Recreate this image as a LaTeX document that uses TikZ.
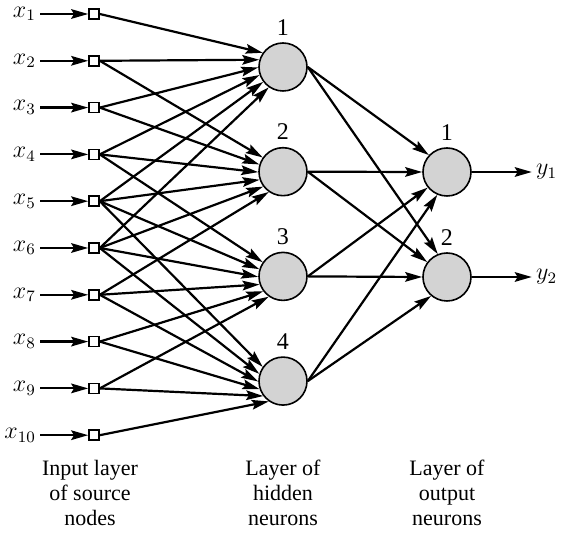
\documentclass[tikz,border=0pt]{standalone}
\usepackage{amsmath}
\usepackage{fontspec}
\setmainfont{Liberation Serif}
\usetikzlibrary{arrows.meta, positioning}

\definecolor{NeuronGrey}{HTML}{D3D3D3}

\begin{document}
\begin{tikzpicture}[x=0.5pt, y=-0.5pt, >={Stealth[length=8.5pt, width=4.8pt, inset=1.4pt]},
    source/.style={draw, rectangle, minimum size=5pt, inner sep=0pt, fill=white, line width=0.8pt},
    neuron/.style={draw, circle, minimum size=24pt, inner sep=0pt, fill=NeuronGrey, line width=0.8pt,
      label distance=-1pt},
    link/.style={->, line width=1.1pt},
    caption/.style={align=center, font=\fontsize{11}{12.5}\selectfont}]
  \useasboundingbox (0,0) rectangle (570,534);
  % Input layer of source nodes
  \foreach \i in {1,...,10} {
    \node[source] (x\i) at (94, {14+46.8*(\i-1)}) {};
    \node[left=24pt of x\i, inner sep=2pt, font=\large] (lx\i) {$x_{\i}$};
    \draw[link] (lx\i) -- (x\i);
  }
  % Hidden and output neurons
  \foreach \j in {1,...,4}
    \node[neuron, label={[font=\large]above:\j}] (h\j) at (283, {67+104.7*(\j-1)}) {};
  \foreach \k in {1,2} {
    \node[neuron, label={[font=\large]above:\k}] (o\k) at (447, {172+105*(\k-1)}) {};
    \node[right=30pt of o\k, inner sep=2pt, font=\large] (y\k) {$y_{\k}$};
    \draw[link] (o\k) -- (y\k);
  }
  % Source nodes -> hidden neurons (arrows spread over the left side)
  \foreach \j/\list in {1/{1,2,3,4,5,6}, 2/{2,3,4,5,6,7}, 3/{4,5,6,7,8,9}, 4/{5,6,7,8,9,10}}
    \foreach \i [count=\idx from 0] in \list {
      \pgfmathtruncatemacro\ang{145+18*\idx}
      \draw[link] (x\i.east) -- (h\j.\ang);
    }
  % Hidden neurons -> output neurons
  \foreach \j/\k/\ang in {1/1/137, 2/1/180, 3/1/219, 4/1/247, 1/2/112, 2/2/143, 3/2/180, 4/2/230}
    \draw[link] (h\j.east) -- (o\k.\ang);
  % Layer captions
  \node[caption] (capin) at (90,493) {Input layer\\of source\\nodes};
  \node[caption] (caphid) at (283,493) {Layer of\\hidden\\neurons};
  \node[caption] (capout) at (447,493) {Layer of\\output\\neurons};
\end{tikzpicture}
\end{document}
